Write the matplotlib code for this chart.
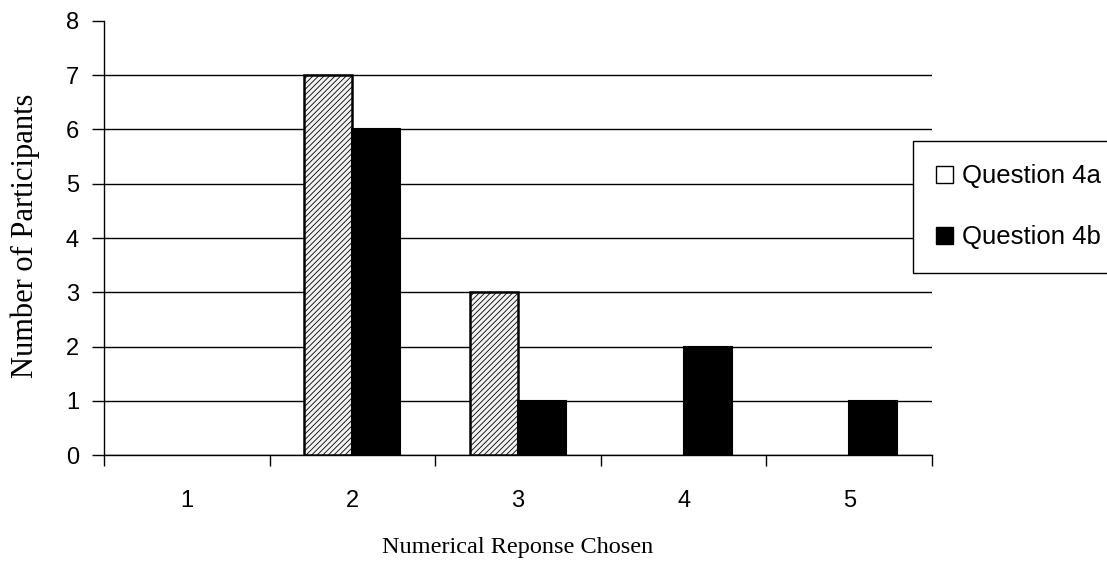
import matplotlib.pyplot as plt
import matplotlib.patches as mpatches
import numpy as np

categories = ['1', '2', '3', '4', '5']
q4a = [0, 7, 3, 0, 0]
q4b = [0, 6, 1, 2, 1]

plt.rcParams['hatch.linewidth'] = 0.6

fig = plt.figure(figsize=(11.07, 5.62), dpi=100)
ax = fig.add_axes([0.094, 0.19, 0.748, 0.773])

x = np.arange(len(categories))
w = 0.29
bars_a = ax.bar(x - w / 2, q4a, w, facecolor='#f2f2f2', edgecolor='black', hatch='//////', linewidth=1.8, zorder=3)
bars_b = ax.bar(x + w / 2, q4b, w, facecolor='black', edgecolor='black', linewidth=1.5, zorder=3)
# no outline for empty bars
for b in list(bars_a) + list(bars_b):
    if b.get_height() == 0:
        b.set_visible(False)

ax.set_xlim(-0.5, 4.5)
ax.set_ylim(0, 8)
ax.set_yticks(range(0, 9))
ax.yaxis.grid(True, color='black', linewidth=1.0, zorder=0)
ax.set_axisbelow(True)
ax.yaxis.get_gridlines()[-1].set_visible(False)

ax.set_xticks(np.arange(-0.5, 5, 1))
ax.set_xticklabels([])
ax.set_xticks(x, minor=True)
ax.set_xticklabels(categories, minor=True)
ax.tick_params(axis='x', which='major', length=8, direction='out', width=1)
ax.tick_params(axis='x', which='minor', length=0, pad=25, labelsize=17)
ax.tick_params(axis='y', length=9, direction='out', width=1, labelsize=17, pad=9)
for lab in ax.get_xticklabels(minor=True) + ax.get_yticklabels():
    lab.set_family('Liberation Sans')

ax.spines['top'].set_visible(False)
ax.spines['right'].set_visible(False)
ax.spines['left'].set_linewidth(1)
ax.spines['bottom'].set_linewidth(1)

ax.set_xlabel('Numerical Reponse Chosen', family='Liberation Serif', fontsize=17.5, labelpad=18)
ax.set_ylabel('Number of Participants', family='Liberation Serif', fontsize=22)
ax.yaxis.set_label_coords(-0.077, 0.505)

h1 = mpatches.Patch(facecolor='white', edgecolor='black', label='Question 4a')
h2 = mpatches.Patch(facecolor='black', edgecolor='black', label='Question 4b')
leg = fig.legend(handles=[h1, h2], loc='upper left', bbox_to_anchor=(0.825, 0.749),
                 prop={'family': 'Liberation Sans', 'size': 18.5}, frameon=True, fancybox=False,
                 framealpha=1, edgecolor='black', handlelength=0.65, handleheight=0.65,
                 handletextpad=0.35, labelspacing=1.45, borderpad=0.9, borderaxespad=0)
leg.get_frame().set_linewidth(1)

fig.savefig('out.png', dpi=100)
